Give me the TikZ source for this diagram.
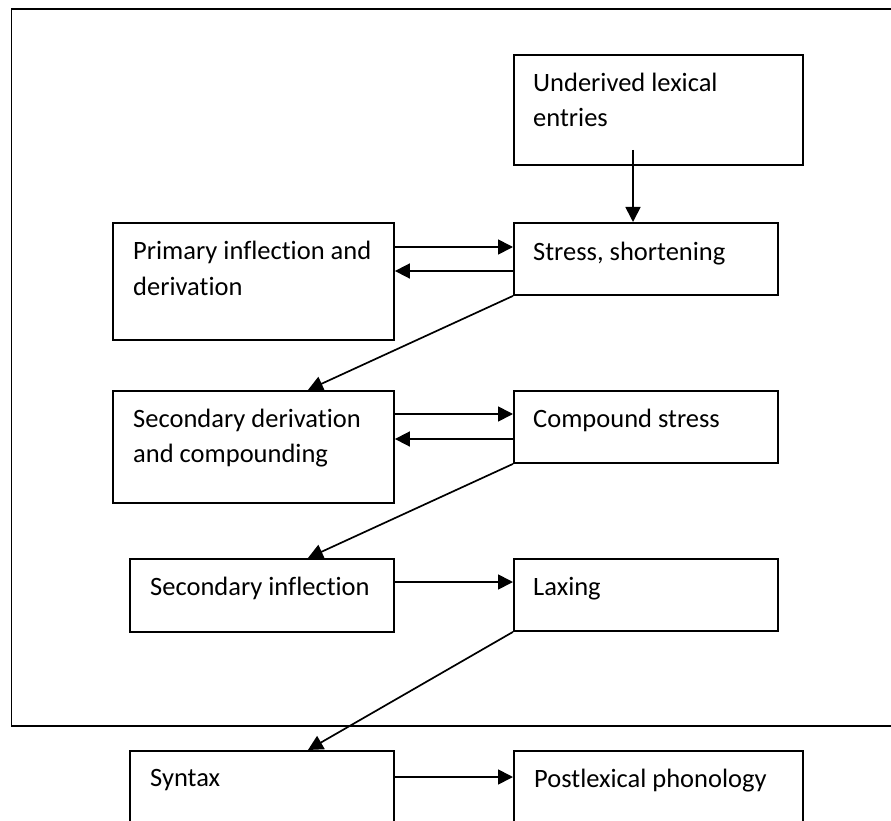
\documentclass[tikz,border=0pt]{standalone}
\usepackage{fontspec}
\setmainfont[Ligatures=NoCommon]{Carlito}
\usetikzlibrary{arrows.meta}
\begin{document}
\begin{tikzpicture}[x=1pt,y=-1pt,
  box/.style={draw=black,line width=1.9pt,rectangle,inner sep=0pt,anchor=north west},
  txt/.style={anchor=base west,inner sep=0pt,font=\fontsize{26.5}{35.7}\selectfont},
  arr/.style={draw=black,line width=1.7pt,-{Triangle[length=15pt,width=15pt]}}]
\useasboundingbox (0,0) rectangle (891,821);
\clip (0,0) rectangle (891,821);
% outer frame (right side runs past the picture edge)
\draw[line width=1.9pt] (920,9) -- (11.5,9) -- (11.5,726) -- (920,726);
% boxes
\node[box,minimum width=289pt,minimum height=110pt] (U) at (513,54) {};
\node[box,minimum width=264pt,minimum height=72pt] (S) at (513,222) {};
\node[box,minimum width=281pt,minimum height=117pt] (P) at (112,222) {};
\node[box,minimum width=281pt,minimum height=112pt] (D) at (112,390) {};
\node[box,minimum width=264pt,minimum height=72pt] (C) at (513,390) {};
\node[box,minimum width=264pt,minimum height=73pt] (I) at (129,558) {};
\node[box,minimum width=264pt,minimum height=72pt] (L) at (513,558) {};
\node[box,minimum width=264pt,minimum height=110pt] (Y) at (129,750) {};
\node[box,minimum width=289pt,minimum height=110pt] (Q) at (513,750) {};
% texts
\node[txt] (tU1) at (533,92) {Underived lexical};
\node[txt] (tU2) at (533,127) {entries};
\node[txt] (tS) at (533,260) {Stress, shortening};
\node[txt] (tP1) at (133,259) {Primary inflection and};
\node[txt] (tP2) at (133,295) {derivation};
\node[txt] (tD1) at (133,427) {Secondary derivation};
\node[txt] (tD2) at (133,462) {and compounding};
\node[txt] (tC) at (533,427) {Compound stress};
\node[txt] (tI) at (150,595) {Secondary inflection};
\node[txt] (tL) at (533,595) {Laxing};
\node[txt] (tY) at (150,786) {Syntax};
\node[txt] (tQ) at (534,787) {Postlexical phonology};
% connectors
\coordinate (ustart) at (633,150);
\draw[arr] (ustart) -- (ustart |- S.north);
\draw[arr] ([yshift=-25pt]P.north east) -- ([yshift=-25pt]S.north west);
\draw[arr] ([yshift=-49pt]S.north west) -- ([yshift=-49pt]P.north east);
\draw[arr] (S.south west) -- ([xshift=54.5pt]D.north);
\draw[arr] ([yshift=-24pt]D.north east) -- ([yshift=-24pt]C.north west);
\draw[arr] ([yshift=-49pt]C.north west) -- ([yshift=-49pt]D.north east);
\draw[arr] (C.south west) -- ([xshift=46pt]I.north);
\draw[arr] ([yshift=-24pt]I.north east) -- ([yshift=-24pt]L.north west);
\draw[arr] (L.south west) -- ([xshift=46pt]Y.north);
\draw[arr] ([yshift=-27pt]Y.north east) -- ([yshift=-27pt]Q.north west);
\end{tikzpicture}
\end{document}
